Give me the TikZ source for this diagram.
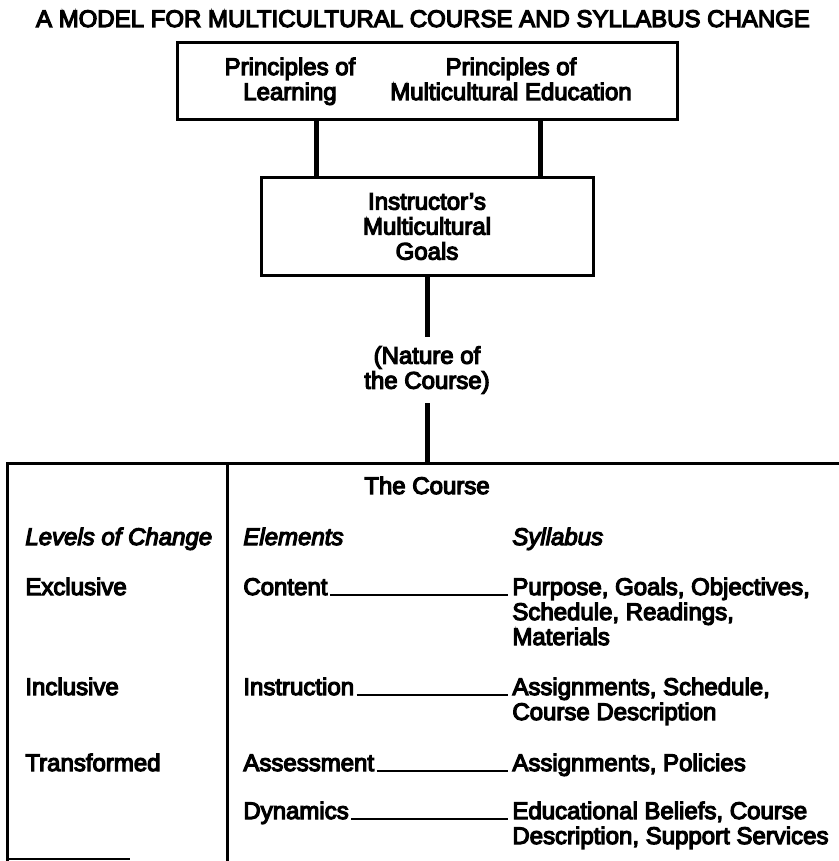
\documentclass[tikz,border=0pt]{standalone}
\usepackage{fontspec}
\setmainfont{Liberation Sans}[FakeBold=5]
\usepackage{tikz}
\usetikzlibrary{positioning, calc}
\usepackage{xcolor}
\newcommand{\dfont}{\fontsize{12pt}{12.5pt}\selectfont}
\tikzstyle{mbox} = [%
  rectangle,
  draw=black,
  line width=1.5pt,
  fill=none,
  inner sep=0pt
]
\tikzstyle{ltext} = [%
  anchor=base west,
  align=left,
  inner sep=0pt
]

\begin{document}
\begin{tikzpicture}[%
  x=0.5pt, y=-0.5pt,
  every node/.style={%
    font=\dfont,
    text=black,
    inner sep=0pt
  },
  head/.style={font=\dfont\itshape},
  link/.style={draw=black, line width=2.5pt},
  frame/.style={draw=black, line width=1.5pt},
  rule/.style={draw=black, line width=1pt, shorten <=1pt, shorten >=2pt}
]
  \useasboundingbox (0,0) rectangle (839,861);

  % Title
  \node[anchor=base] (title) at (423,27) {A MODEL FOR MULTICULTURAL COURSE AND SYLLABUS CHANGE};

  % Boxes
  \node[mbox, minimum width=250pt, minimum height=38.5pt] (princ) at (427,81.5) {};
  \node[anchor=base, align=center] (learn) at (290,100) {Principles of\\Learning};
  \node[anchor=base, align=center] (mcedu) at (511,100) {Principles of\\Multicultural Education};
  \node[mbox, minimum width=166pt, minimum height=48.5pt, align=center] (goals) at (427,226.5) {Instructor's\\Multicultural\\Goals};
  \node[align=center, inner ysep=4.5pt] (nature) at (427,370) {(Nature of\\the Course)};

  % Table
  \coordinate (tabletop) at (427,463);
  \draw[frame] (839,463) -- (7,463) -- (7,861);
  \draw[frame] (227,463) -- (227,861);
  \draw[draw=black, line width=1pt] (7,859) -- (130,859);

  \node[anchor=base] (course) at (427,494) {The Course};
  \node[ltext, head] (levels) at (25,545) {Levels of Change};
  \node[ltext, head] (elem) at (243,545) {Elements};
  \node[ltext, head] (syl) at (512,545) {Syllabus};

  \node[ltext] (excl) at (25,595) {Exclusive};
  \node[ltext] (incl) at (25,695) {Inclusive};
  \node[ltext] (trans) at (25,771) {Transformed};

  \node[ltext] (cont) at (243,595) {Content};
  \node[ltext] (instr) at (243,695) {Instruction};
  \node[ltext] (assess) at (243,771) {Assessment};
  \node[ltext] (dyn) at (243,819) {Dynamics};

  \node[ltext] (syla) at (512,645) {Purpose, Goals, Objectives,\\Schedule, Readings,\\Materials};
  \node[ltext] (sylb) at (512,720) {Assignments, Schedule,\\Course Description};
  \node[ltext] (sylc) at (512,771) {Assignments, Policies};
  \node[ltext] (syld) at (512,844) {Educational Beliefs, Course\\Description, Support Services};

  % Edges
  \draw[link] ($(princ.south west)!0.28!(princ.south east)$) coordinate (la) -- (la |- goals.north);
  \draw[link] ($(princ.south west)!0.726!(princ.south east)$) coordinate (lb) -- (lb |- goals.north);
  \draw[link] (goals.south) -- (nature.north);
  \draw[link] (nature.south) -- (tabletop);

  \draw[rule] (cont.base east) -- (cont.base east -| syla.west);
  \draw[rule] (instr.base east) -- (instr.base east -| sylb.west);
  \draw[rule] (assess.base east) -- (assess.base east -| sylc.west);
  \draw[rule] (dyn.base east) -- (dyn.base east -| syld.west);

\end{tikzpicture}
\end{document}
